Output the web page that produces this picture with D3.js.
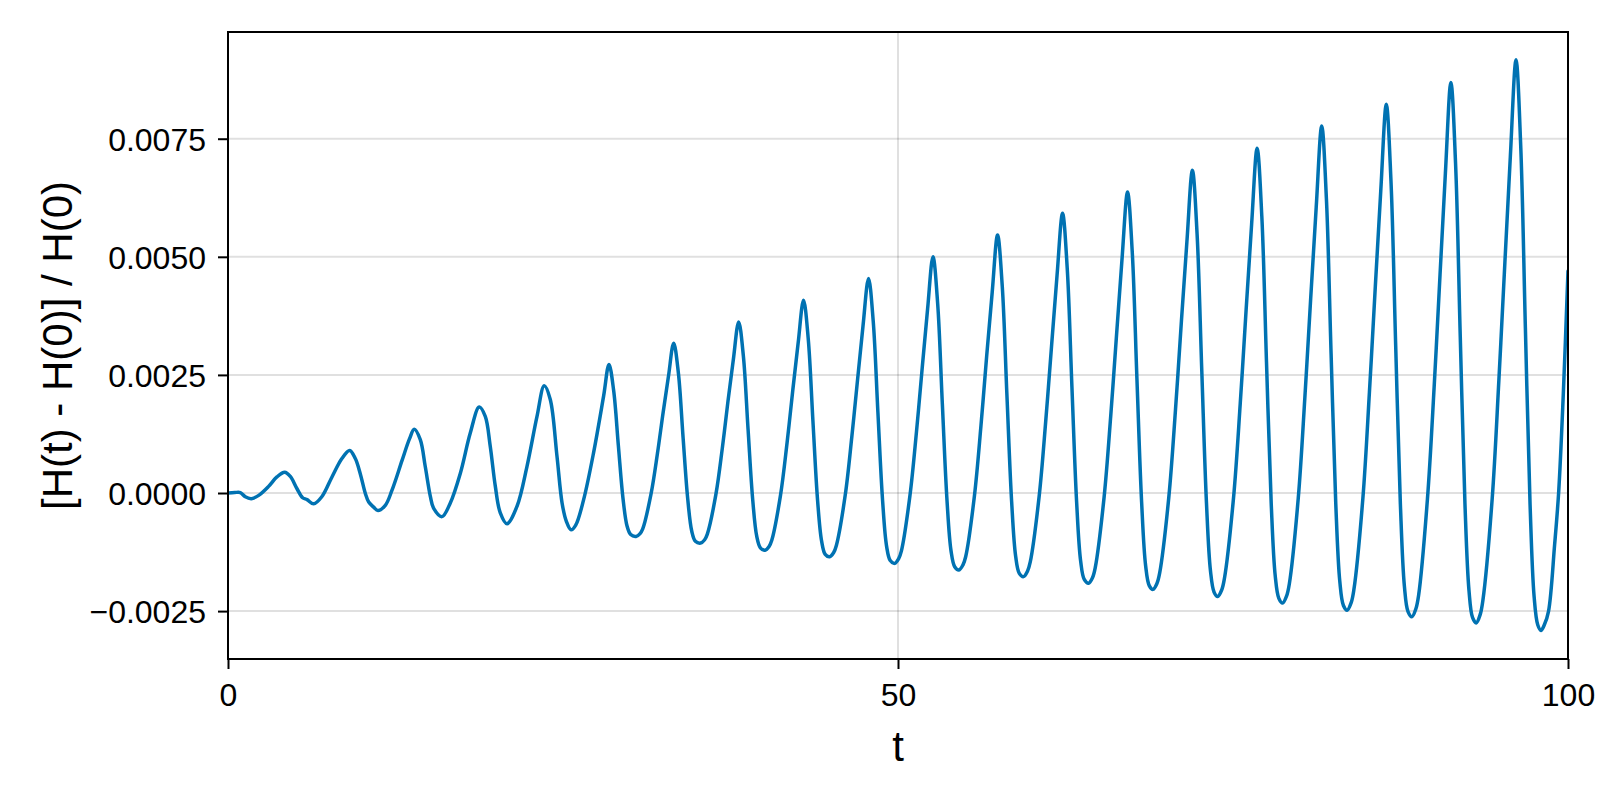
<!DOCTYPE html>
<html>
<head>
<meta charset="utf-8">
<script src="https://cdn.jsdelivr.net/npm/d3@7"></script>
<style>
    html, body { margin: 0; padding: 0; background: #fff; }
    svg { display: block; }
</style>
</head>
<body>
<svg id="chart"></svg>
<script>
// relative energy error (one row per oscillation after t = 28)
const tValues = [
    0, 0.5, 0.92, 1.29, 1.74, 2.29, 3.03, 3.65, 4.23, 4.65, 5.15, 5.57, 5.9, 6.39,
    7.0, 7.76, 8.5, 9.08, 9.5, 9.87, 10.25, 10.5, 10.87, 11.19,
    11.74, 12.24, 12.99, 13.55, 13.9, 14.35, 14.72, 15.1, 15.34, 15.97,
    16.59, 17.34, 18.08, 18.75, 19.2, 19.57, 19.95, 20.32, 20.82,
    21.57, 22.31, 23.06, 23.6, 24.05, 24.55, 24.93, 25.25, 25.6,
    25.95, 26.54, 27.28, 28.03, 28.43,
    28.78, 29.13, 29.48, 29.78, 30.05, 30.45, 30.75, 30.95, 31.57, 32.05, 32.47, 32.87, 33.26,
    33.61, 33.96, 34.31, 34.61, 34.88, 35.27, 35.57, 35.77, 36.41, 36.89, 37.31, 37.71, 38.11,
    38.46, 38.81, 39.16, 39.46, 39.73, 40.08, 40.38, 40.58, 41.23, 41.72, 42.15, 42.55, 42.95,
    43.3, 43.65, 44.0, 44.3, 44.57, 44.9, 45.2, 45.4, 46.06, 46.55, 46.99, 47.39, 47.8,
    48.15, 48.5, 48.85, 49.15, 49.42, 49.75, 50.05, 50.25, 50.89, 51.38, 51.81, 52.21, 52.61,
    52.96, 53.31, 53.66, 53.96, 54.23, 54.55, 54.85, 55.05, 55.7, 56.19, 56.62, 57.03, 57.43,
    57.78, 58.13, 58.48, 58.78, 59.05, 59.37, 59.67, 59.87, 60.53, 61.03, 61.47, 61.87, 62.28,
    62.63, 62.98, 63.33, 63.63, 63.9, 64.22, 64.52, 64.72, 65.38, 65.88, 66.32, 66.72, 67.13,
    67.48, 67.83, 68.18, 68.48, 68.75, 69.03, 69.33, 69.53, 70.21, 70.71, 71.15, 71.56, 71.97,
    72.32, 72.67, 73.02, 73.32, 73.59, 73.86, 74.16, 74.36, 75.04, 75.54, 75.98, 76.39, 76.8,
    77.15, 77.5, 77.85, 78.15, 78.42, 78.7, 79.0, 79.2, 79.87, 80.36, 80.8, 81.21, 81.62,
    81.97, 82.32, 82.67, 82.97, 83.24, 83.52, 83.82, 84.02, 84.69, 85.18, 85.62, 86.03, 86.44,
    86.79, 87.14, 87.49, 87.79, 88.06, 88.35, 88.65, 88.85, 89.51, 90.01, 90.45, 90.85, 91.26,
    91.61, 91.96, 92.31, 92.61, 92.88, 93.15, 93.45, 93.65, 94.34, 94.84, 95.29, 95.7, 96.12,
    96.47, 96.82, 97.17, 97.47, 97.74, 97.98, 98.25, 98.55, 99.0, 99.3, 99.65, 100
];
const dHValues = [
    0, 0.00001, 0.00001, -0.00008, -0.00012, -0.00005, 0.00014, 0.00034, 0.00044, 0.00035, 0.00009, -0.00010, -0.00014, -0.00023,
    -0.00008, 0.00034, 0.00073, 0.00090, 0.00073, 0.00041, -0.00001, -0.00019, -0.00030, -0.00037,
    -0.00026, 0.00006, 0.00069, 0.00115, 0.00135, 0.00113, 0.00056, -0.00007, -0.00032, -0.00050,
    -0.00021, 0.00042, 0.00127, 0.00182, 0.00162, 0.00099, 0.00014, -0.00042, -0.00065,
    -0.00028, 0.00056, 0.00162, 0.00227, 0.00198, 0.00078, -0.00021, -0.00060, -0.00078,
    -0.00068, -0.00014, 0.00085, 0.00205, 0.00272,
    0.00217, 0.00101, -0.00012, -0.00070, -0.00088, -0.00092, -0.00086, -0.00076, -0.00002, 0.00084, 0.00170, 0.00247, 0.00317,
    0.00254, 0.00118, -0.00013, -0.00081, -0.00102, -0.00106, -0.00099, -0.00087, -0.00003, 0.00095, 0.00194, 0.00282, 0.00362,
    0.00290, 0.00135, -0.00015, -0.00092, -0.00116, -0.00121, -0.00113, -0.00100, -0.00005, 0.00106, 0.00218, 0.00318, 0.00408,
    0.00327, 0.00153, -0.00016, -0.00102, -0.00130, -0.00135, -0.00126, -0.00111, -0.00005, 0.00118, 0.00242, 0.00354, 0.00454,
    0.00364, 0.00171, -0.00016, -0.00113, -0.00143, -0.00149, -0.00139, -0.00123, -0.00006, 0.00130, 0.00266, 0.00390, 0.00500,
    0.00401, 0.00188, -0.00017, -0.00123, -0.00156, -0.00163, -0.00152, -0.00135, -0.00007, 0.00142, 0.00291, 0.00425, 0.00546,
    0.00438, 0.00206, -0.00018, -0.00134, -0.00170, -0.00177, -0.00165, -0.00146, -0.00008, 0.00154, 0.00315, 0.00461, 0.00592,
    0.00475, 0.00224, -0.00019, -0.00144, -0.00183, -0.00191, -0.00179, -0.00158, -0.00009, 0.00165, 0.00339, 0.00496, 0.00637,
    0.00511, 0.00242, -0.00019, -0.00154, -0.00196, -0.00204, -0.00191, -0.00169, -0.00009, 0.00177, 0.00364, 0.00532, 0.00683,
    0.00548, 0.00259, -0.00021, -0.00165, -0.00210, -0.00219, -0.00205, -0.00181, -0.00010, 0.00189, 0.00388, 0.00569, 0.00730,
    0.00586, 0.00277, -0.00021, -0.00175, -0.00223, -0.00233, -0.00218, -0.00193, -0.00011, 0.00201, 0.00413, 0.00605, 0.00777,
    0.00623, 0.00295, -0.00023, -0.00187, -0.00238, -0.00248, -0.00232, -0.00205, -0.00012, 0.00213, 0.00437, 0.00641, 0.00823,
    0.00660, 0.00313, -0.00023, -0.00197, -0.00251, -0.00262, -0.00245, -0.00217, -0.00013, 0.00224, 0.00462, 0.00677, 0.00869,
    0.00697, 0.00331, -0.00023, -0.00206, -0.00264, -0.00275, -0.00257, -0.00227, -0.00013, 0.00238, 0.00488, 0.00714, 0.00917,
    0.00736, 0.00349, -0.00025, -0.00219, -0.00279, -0.00291, -0.00278, -0.00250, -0.00110, 0.00000, 0.00210, 0.00470
];

const xTicks = [0, 50, 100];
const yTicks = [-0.0025, 0, 0.0025, 0.005, 0.0075];
const xDomain = [0, 100];
const yDomain = [-0.003514, 0.009759];
const xLabel = "t";
const yLabel = "[H(t) - H(0)] / H(0)";

const width = 1600;
const height = 800;
const margin = { top: 32, right: 32, bottom: 141, left: 228 };
const innerW = width - margin.left - margin.right;
const innerH = height - margin.top - margin.bottom;
const font = "'Liberation Sans', Arial, Helvetica, sans-serif";

const svg = d3.select("#chart")
    .attr("width", width)
    .attr("height", height);

const g = svg.append("g")
    .attr("transform", `translate(${margin.left},${margin.top})`);

const x = d3.scaleLinear().domain(xDomain).range([0, innerW]);
const y = d3.scaleLinear().domain(yDomain).range([innerH, 0]);

// grid
g.append("g")
    .selectAll("line")
    .data(yTicks)
    .enter()
    .append("line")
    .attr("x1", 0).attr("x2", innerW)
    .attr("y1", d => y(d)).attr("y2", d => y(d))
    .attr("stroke", "rgba(0,0,0,0.12)")
    .attr("stroke-width", 2);

g.append("g")
    .selectAll("line")
    .data(xTicks)
    .enter()
    .append("line")
    .attr("x1", d => x(d)).attr("x2", d => x(d))
    .attr("y1", 0).attr("y2", innerH)
    .attr("stroke", "rgba(0,0,0,0.12)")
    .attr("stroke-width", 2);

// the series
g.append("clipPath").attr("id", "clip")
    .append("rect").attr("width", innerW).attr("height", innerH);

const points = tValues.map((t, i) => [t, dHValues[i]]);
const line = d3.line()
    .x(d => x(d[0]))
    .y(d => y(d[1]))
    .curve(d3.curveCatmullRom.alpha(0.5));

g.append("path")
    .datum(points)
    .attr("clip-path", "url(#clip)")
    .attr("d", line)
    .attr("fill", "none")
    .attr("stroke", "#0072B2")
    .attr("stroke-width", 3.5)
    .attr("stroke-linejoin", "round")
    .attr("stroke-linecap", "round");

// axes
const fmt = d3.format(".4f");

const xAxis = g.append("g")
    .attr("transform", `translate(0,${innerH})`)
    .call(d3.axisBottom(x).tickValues(xTicks).tickSize(10).tickPadding(14).tickFormat(d3.format("d")));

const yAxis = g.append("g")
    .call(d3.axisLeft(y).tickValues(yTicks).tickSize(10).tickPadding(12).tickFormat(fmt));

[xAxis, yAxis].forEach(a => {
    a.select(".domain").remove();
    a.selectAll(".tick line").attr("stroke", "#000").attr("stroke-width", 2);
    a.selectAll(".tick text")
        .attr("fill", "#000")
        .style("font-family", font)
        .style("font-size", "32px");
});
xAxis.selectAll(".tick text").attr("dy", "0.72em");
yAxis.selectAll(".tick text").attr("dy", "0.36em");

// box
g.append("rect")
    .attr("width", innerW)
    .attr("height", innerH)
    .attr("fill", "none")
    .attr("stroke", "#000")
    .attr("stroke-width", 2);

// labels
svg.append("text")
    .attr("x", margin.left + innerW / 2)
    .attr("y", 761)
    .attr("text-anchor", "middle")
    .style("font-family", font)
    .style("font-size", "42px")
    .text(xLabel);

svg.append("text")
    .attr("transform", `translate(72,${margin.top + innerH / 2}) rotate(-90)`)
    .attr("text-anchor", "middle")
    .style("font-family", font)
    .style("font-size", "42px")
    .text(yLabel);
</script>
</body>
</html>
